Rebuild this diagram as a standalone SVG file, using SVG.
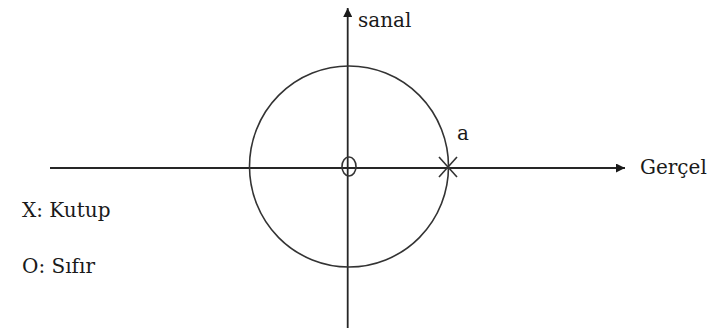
<svg xmlns="http://www.w3.org/2000/svg" width="712" height="333" viewBox="0 0 712 333">
  <style>
    .ax { stroke: #262626; stroke-width: 1.8; fill: none; }
    .ln { stroke: #333333; stroke-width: 1.6; fill: none; }
    .lbl { font-family: "DejaVu Serif", "Liberation Serif", serif; font-size: 20px; fill: #1a1a1a; }
  </style>
  <defs>
    <marker id="arrow" viewBox="0 0 10 10" refX="10" refY="5" markerWidth="9" markerHeight="9" markerUnits="userSpaceOnUse" orient="auto">
      <path d="M0,0 L10,5 L0,10 z" fill="#1a1a1a"/>
    </marker>
  </defs>
  <rect width="712" height="333" fill="#ffffff"/>
  <g id="connectors">
    <line class="ax" x1="50" y1="168" x2="625" y2="168" marker-end="url(#arrow)"/>
    <line class="ax" x1="347.7" y1="328" x2="347.7" y2="8" marker-end="url(#arrow)"/>
  </g>
  <g id="unit-circle">
    <ellipse class="ln" cx="349" cy="166.5" rx="99.5" ry="100.5"/>
  </g>
  <g id="zero">
    <ellipse class="ln" cx="349" cy="166.5" rx="7" ry="9.5"/>
  </g>
  <g id="pole">
    <line class="ln" x1="439" y1="157" x2="457" y2="177"/>
    <line class="ln" x1="439" y1="177" x2="457" y2="157"/>
  </g>
  <g id="label-sanal"><text class="lbl" x="358" y="27">sanal</text></g>
  <g id="label-gercel"><text class="lbl" x="640" y="174">Gerçel</text></g>
  <g id="label-a"><text class="lbl" x="457" y="140">a</text></g>
  <g id="legend">
    <text class="lbl" x="22" y="217">X: Kutup</text>
    <text class="lbl" x="22" y="273">O: Sıfır</text>
  </g>
</svg>
